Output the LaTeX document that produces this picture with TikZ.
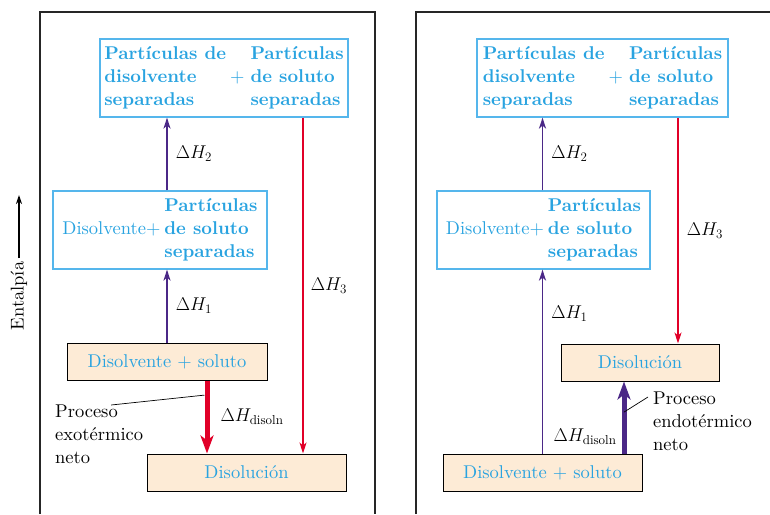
\documentclass[tikz,border=0pt]{standalone}
\usepackage{fix-cm}
\usepackage{fontspec}
\setmainfont{lmroman10}[Extension=.otf, UprightFont=*-regular, BoldFont=*-bold, ItalicFont=*-italic, BoldItalicFont=*-bolditalic]
\usetikzlibrary{arrows.meta}

\definecolor{txtblue}{RGB}{41,163,224}
\definecolor{lineblue}{RGB}{85,182,236}
\definecolor{upviolet}{RGB}{75,40,135}
\definecolor{downred}{RGB}{225,0,40}
\definecolor{mixpeach}{RGB}{253,235,214}

\newcommand{\sepparts}{\begin{tabular}{@{}l@{\hspace{4pt}}c@{\hspace{6pt}}l@{}}
  \textbf{Partículas de} & & \textbf{Partículas}\\
  \textbf{disolvente} & + & \textbf{de soluto}\\
  \textbf{separadas} & & \textbf{separadas}
\end{tabular}}
\newcommand{\solsep}{\begin{tabular}{@{}r@{\hspace{4pt}}l@{}}
  & \textbf{Partículas}\\
  Disolvente+ & \textbf{de soluto}\\
  & \textbf{separadas}
\end{tabular}}

\tikzset{
  sepbox/.style={draw=lineblue, line width=1.2pt, text=txtblue, minimum height=78pt, inner sep=0pt},
  mixbox/.style={draw=black, line width=1pt, fill=mixpeach, text=txtblue, minimum height=37pt, inner sep=0pt},
  uparr/.style={draw=upviolet, line width=1.6pt, -{Stealth[length=11pt,width=7pt,inset=3pt]}},
  downarr/.style={draw=downred, line width=1.6pt, -{Stealth[length=11pt,width=7pt,inset=3pt]}},
  netarr/.style={line width=5pt, -{Stealth[length=18pt,width=13pt,inset=5pt]}},
  dh/.style={inner sep=0pt, text=black},
  note/.style={inner sep=0pt, align=left, anchor=north west},
  leader/.style={draw=black, line width=0.7pt}
}

\begin{document}
\begin{tikzpicture}[x=1pt, y=-1pt, font=\fontsize{18.5}{23}\selectfont]
  \useasboundingbox (0,0) rectangle (770,514);
  \draw[line width=1.3pt, black!85] (40,514) |- (375,12) -- (375,514);
  \draw[line width=1.3pt, black!85] (416,514) |- (770,12);

  \node[rotate=90] (ental) at (19,296) {Entalpía};
  \coordinate (entTop) at (19,195);
  \draw[line width=1.2pt, -{Stealth[length=9pt,width=6pt]}] (ental.east) -- (entTop);

  \node[sepbox, minimum width=248pt] (topL) at (224,78) {\sepparts};
  \node[sepbox, minimum width=214pt] (midL) at (160,230) {\solsep};
  \node[mixbox, minimum width=200pt] (reacL) at (167,361.5) {Disolvente + soluto};
  \node[mixbox, minimum width=199pt] (solL) at (246.5,472.5) {Disolución};

  \draw[uparr] (reacL.north) -- (reacL.north |- midL.south) node[dh, midway, right=8pt] {$\Delta H_1$};
  \draw[uparr] (reacL.north |- midL.north) -- (reacL.north |- topL.south) node[dh, midway, right=8pt] {$\Delta H_2$};
  \coordinate (h3L) at ([xshift=56.5pt]solL.north);
  \draw[downarr] (h3L |- topL.south) -- (h3L) node[dh, midway, right=7pt] {$\Delta H_3$};
  \coordinate (netL) at ([xshift=-39.5pt]solL.north);
  \draw[netarr, draw=downred] (netL |- reacL.south) -- (netL) coordinate[pos=0.2] (exoPt)
    node[dh, midway, right=11pt] {$\Delta H_{\mathrm{disoln}}$};
  \node[note] (exoL) at (55,405) {Proceso\\exotérmico\\neto};
  \draw[leader] ([xshift=12pt]exoL.north) -- ([xshift=-2.5pt]exoPt);

  \node[sepbox, minimum width=251pt] (topR) at (602.5,78) {\sepparts};
  \node[sepbox, minimum width=213pt] (midR) at (543.5,230) {\solsep};
  \node[mixbox, minimum width=158pt] (solR) at (640,362.5) {Disolución};
  \node[mixbox, minimum width=199pt] (reacR) at (542.5,472.5) {Disolvente + soluto};

  \draw[uparr] (reacR.north) -- (reacR.north |- midR.south) node[dh, pos=0.76, right=8pt] {$\Delta H_1$};
  \draw[uparr] (reacR.north |- midR.north) -- (reacR.north |- topR.south) node[dh, midway, right=8pt] {$\Delta H_2$};
  \coordinate (h3R) at ([xshift=38pt]solR.north);
  \draw[downarr] (h3R |- topR.south) -- (h3R) node[dh, midway, right=8pt] {$\Delta H_3$};
  \coordinate (netR) at ([xshift=81.5pt]reacR.north);
  \draw[netarr, draw=upviolet] (netR) -- (netR |- solR.south) coordinate[pos=0.575] (endoPt)
    node[dh, pos=0.23, left=5pt] {$\Delta H_{\mathrm{disoln}}$};
  \node[note] (endoR) at (653,392) {Proceso\\endotérmico\\neto};
  \draw[leader] (endoPt) -- ([xshift=-5pt,yshift=-5pt]endoR.north west);
\end{tikzpicture}
\end{document}
